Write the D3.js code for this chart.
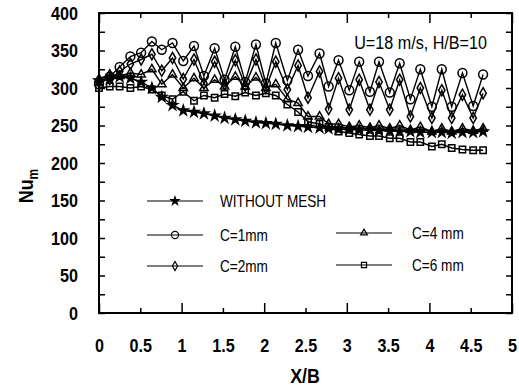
<!DOCTYPE html>
<html>
<head>
<meta charset="utf-8">
<script src="https://cdn.jsdelivr.net/npm/d3@7"></script>
<style>
  body { margin: 0; background: #fff; }
  svg { display: block; font-family: "Liberation Sans", Arial, sans-serif; }
</style>
</head>
<body>
<div id="chart"></div>
<script>
// values (X/B positions shared by every series)
const xb = [0, 0.13, 0.25, 0.38, 0.51, 0.64, 0.76, 0.89, 1.02, 1.15, 1.27, 1.40, 1.52,
  1.65, 1.77, 1.90, 2.02, 2.14, 2.28, 2.41, 2.53, 2.67, 2.78, 2.90, 3.03, 3.15, 3.28,
  3.39, 3.52, 3.64, 3.77, 3.89, 4.03, 4.15, 4.27, 4.40, 4.53, 4.65];

const withoutMesh = [310, 312, 315, 313, 308, 300, 288, 277, 270, 268, 266, 263, 260,
  258, 256, 254, 253, 252, 250, 249, 248, 247, 246, 245, 245, 244, 244, 243, 243,
  242, 242, 241, 241, 241, 240, 241, 241, 242];
const c1mm = [305, 315, 328, 342, 347, 362, 351, 360, 336, 356, 316, 353, 311, 355, 308,
  358, 306, 360, 310, 351, 316, 346, 302, 337, 297, 335, 295, 335, 294, 333, 285, 325,
  275, 325, 275, 320, 276, 318];
const c2mm = [308, 312, 322, 332, 338, 345, 323, 340, 312, 338, 306, 335, 305, 337, 303,
  338, 300, 335, 298, 330, 287, 322, 272, 313, 271, 311, 271, 308, 271, 311, 262, 300,
  260, 297, 260, 291, 260, 293];
const c4mm = [312, 318, 316, 320, 318, 325, 305, 318, 300, 313, 300, 311, 302, 315, 302,
  314, 300, 305, 285, 280, 262, 262, 252, 252, 248, 250, 247, 250, 246, 250, 244, 248,
  242, 246, 242, 246, 243, 246];
const c6mm = [300, 302, 302, 300, 302, 298, 290, 285, 295, 283, 290, 287, 292, 289, 294,
  290, 293, 290, 278, 268, 255, 252, 248, 242, 240, 238, 236, 236, 233, 233, 228, 228,
  222, 225, 220, 218, 217, 217];

const seriesNames = ['WITHOUT MESH', 'C=1mm', 'C=2mm', 'C=4 mm', 'C=6 mm'];
const xTickLabels = ['0', '0.5', '1', '1.5', '2', '2.5', '3', '3.5', '4', '4.5', '5'];
const yTickLabels = [0, 50, 100, 150, 200, 250, 300, 350, 400];

const width = 519, height = 389;
const m = { left: 99, right: 512, top: 13, bottom: 313 };
const narrow = 0.85; // the original lettering is a condensed face

const x = d3.scaleLinear().domain([0, 5]).range([m.left, m.right]);
const y = d3.scaleLinear().domain([0, 400]).range([m.bottom, m.top]);

const svg = d3.select('#chart').append('svg')
    .attr('width', width)
    .attr('height', height);

// marker per series: symbol type, size, filled?
const markers = [
  { type: d3.symbolStar, size: 30, fill: '#000' },
  { type: d3.symbolCircle, size: 62, fill: 'none' },
  { type: d3.symbolDiamond, size: 36, fill: 'none' },
  { type: d3.symbolTriangle, size: 30, fill: 'none' },
  { type: d3.symbolSquare, size: 40, fill: 'none' }
];
const allSeries = [withoutMesh, c1mm, c2mm, c4mm, c6mm];

// minor ticks (inward) on all four sides
const yMinor = d3.range(0, 401, 25);
const xMinor = d3.range(0, 5.01, 0.5);

svg.append('g')
    .attr('transform', `translate(${m.left},0)`)
    .call(d3.axisLeft(y).tickValues(yMinor).tickSize(-6).tickFormat(''))
    .call(g => g.select('.domain').remove());
svg.append('g')
    .attr('transform', `translate(${m.right},0)`)
    .call(d3.axisRight(y).tickValues(yMinor).tickSize(-6).tickFormat(''))
    .call(g => g.select('.domain').remove());
svg.append('g')
    .attr('transform', `translate(0,${m.bottom})`)
    .call(d3.axisBottom(x).tickValues(xMinor).tickSize(-5).tickFormat(''))
    .call(g => g.select('.domain').remove())
    .call(g => g.selectAll('.tick line').filter(d => d % 1 === 0).attr('y2', -10));
svg.append('g')
    .attr('transform', `translate(0,${m.top})`)
    .call(d3.axisTop(x).tickValues(xMinor).tickSize(-5).tickFormat(''))
    .call(g => g.select('.domain').remove())
    .call(g => g.selectAll('.tick line').filter(d => d % 1 === 0).attr('y2', 10));

svg.selectAll('.tick line').attr('stroke', '#000').attr('stroke-width', 1.5);

// tick labels
svg.append('g')
    .attr('transform', `translate(${m.left},0)`)
    .call(d3.axisLeft(y).tickValues(yTickLabels).tickSize(0))
    .call(g => g.select('.domain').remove())
    .selectAll('text')
    .attr('x', -21 / narrow)
    .attr('transform', `scale(${narrow},1)`)
    .attr('font-size', 19).attr('font-weight', 'bold').attr('fill', '#000')
    .attr('font-family', '"Liberation Sans", Arial, sans-serif');

svg.append('g')
    .attr('transform', `translate(0,${m.bottom})`)
    .call(d3.axisBottom(x).tickValues(xTickLabels.map(Number)).tickSize(0).tickPadding(26)
        .tickFormat((d, i) => xTickLabels[i]))
    .call(g => g.select('.domain').remove())
    .selectAll('text')
    .attr('transform', `scale(${narrow},1)`)
    .attr('font-size', 19).attr('font-weight', 'bold').attr('fill', '#000')
    .attr('font-family', '"Liberation Sans", Arial, sans-serif');

// frame
svg.append('rect')
    .attr('x', m.left).attr('y', m.top)
    .attr('width', m.right - m.left).attr('height', m.bottom - m.top)
    .attr('fill', 'none').attr('stroke', '#000').attr('stroke-width', 2);

// axis titles
svg.append('text')
    .attr('transform', `translate(305,383) scale(${narrow},1)`)
    .attr('text-anchor', 'middle')
    .attr('font-size', 21).attr('font-weight', 'bold')
    .text('X/B');

const yTitle = svg.append('text')
    .attr('transform', `translate(33,186) rotate(-90) scale(${narrow},1)`)
    .attr('text-anchor', 'middle')
    .attr('font-size', 21).attr('font-weight', 'bold');
yTitle.append('tspan').text('Nu');
yTitle.append('tspan').attr('font-size', 14).attr('dy', 5).text('m');

svg.append('text')
    .attr('transform', `translate(487,49) scale(${narrow},1)`)
    .attr('text-anchor', 'end')
    .attr('font-size', 19)
    .text('U=18 m/s, H/B=10');

// series
const line = d3.line()
    .x((d, i) => x(xb[i]))
    .y(d => y(d));

const plot = svg.append('g');

allSeries.forEach((values, k) => {
    const mk = markers[k];
    plot.append('path')
        .datum(values)
        .attr('d', line)
        .attr('fill', 'none')
        .attr('stroke', '#000')
        .attr('stroke-width', 1.4);

    plot.selectAll(null)
        .data(values)
        .enter()
        .append('path')
            .attr('transform', (d, i) => `translate(${x(xb[i])},${y(d)})`)
            .attr('d', d3.symbol().type(mk.type).size(mk.size))
            .attr('fill', mk.fill)
            .attr('stroke', '#000')
            .attr('stroke-width', 1.5);
});

// legend
const legendItems = [
  { k: 0, x: 147, y: 201 },
  { k: 1, x: 147, y: 235 },
  { k: 2, x: 147, y: 266 },
  { k: 3, x: 336, y: 233 },
  { k: 4, x: 336, y: 265 }
];

const legend = svg.append('g')
    .selectAll('g')
    .data(legendItems)
    .enter()
    .append('g')
        .attr('transform', d => `translate(${d.x},${d.y})`);

legend.append('line')
    .attr('x1', 0).attr('x2', 56)
    .attr('stroke', '#000').attr('stroke-width', 1.1);

legend.append('path')
    .attr('transform', 'translate(28,0)')
    .attr('d', d => d3.symbol().type(markers[d.k].type).size(markers[d.k].size * 0.65)())
    .attr('fill', d => markers[d.k].fill)
    .attr('stroke', '#000')
    .attr('stroke-width', 1.2);

legend.append('text')
    .attr('transform', d => `translate(${d.k < 3 ? 73 : 76},6) scale(${narrow},1)`)
    .attr('font-size', 16)
    .text(d => seriesNames[d.k]);
</script>
</body>
</html>
